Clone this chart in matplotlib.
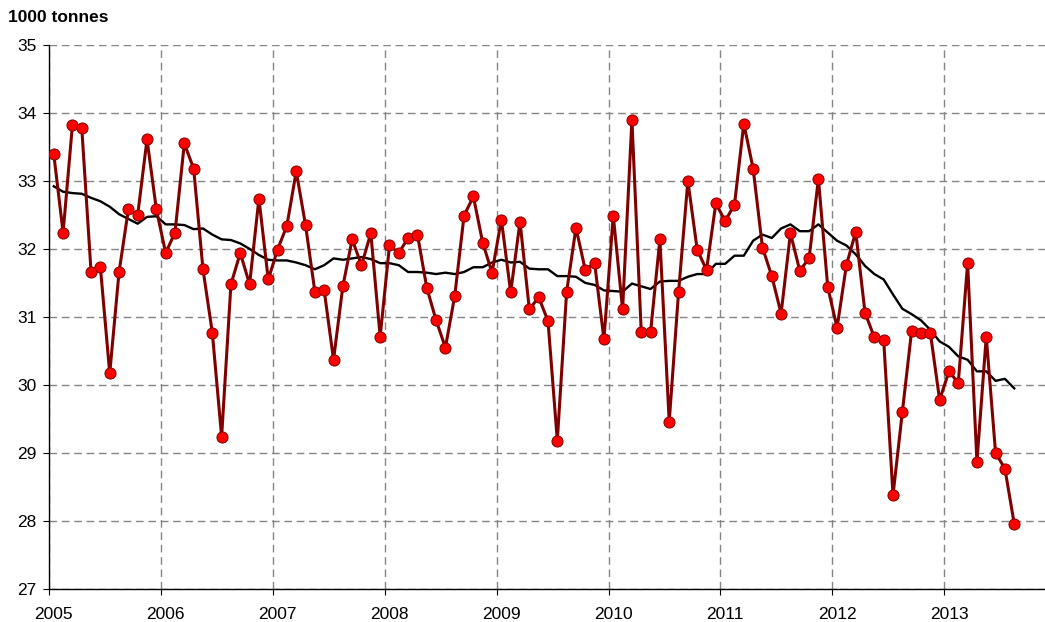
import matplotlib.pyplot as plt
import numpy as np

plt.rcParams['font.family'] = ['Liberation Sans', 'DejaVu Sans']

# monthly values, Jan 2005 .. Aug 2013 (1000 tonnes)
monthly = [
    33.39, 32.24, 33.82, 33.78, 31.66, 31.73, 30.17, 31.66, 32.58, 32.50, 33.61, 32.58,  # 2005
    31.94, 32.24, 33.55, 33.18, 31.70, 30.77, 29.24, 31.48, 31.94, 31.48, 32.74, 31.55,  # 2006
    31.99, 32.34, 33.14, 32.35, 31.37, 31.39, 30.37, 31.45, 32.14, 31.76, 32.23, 30.71,  # 2007
    32.05, 31.94, 32.16, 32.21, 31.43, 30.95, 30.55, 31.31, 32.49, 32.77, 32.09, 31.65,  # 2008
    32.43, 31.36, 32.40, 31.11, 31.29, 30.94, 29.18, 31.37, 32.31, 31.69, 31.79, 30.67,  # 2009
    32.49, 31.11, 33.90, 30.78, 30.78, 32.14, 29.46, 31.36, 33.00, 31.99, 31.69, 32.67,  # 2010
    32.41, 32.65, 33.84, 33.18, 32.02, 31.60, 31.05, 32.23, 31.68, 31.86, 33.03, 31.44,  # 2011
    30.84, 31.76, 32.25, 31.06, 30.70, 30.66, 28.38, 29.60, 30.80, 30.77, 30.77, 29.78,  # 2012
    30.20, 30.03, 31.79, 28.87, 30.71, 29.00, 28.77, 27.96,                              # 2013
]

# 12-month moving average
moving_avg = [
    32.92, 32.84, 32.82, 32.81, 32.75, 32.70, 32.62, 32.51, 32.44, 32.37, 32.47, 32.48,
    32.36, 32.36, 32.35, 32.29, 32.30, 32.21, 32.14, 32.13, 32.08, 32.00, 31.91, 31.84,
    31.83, 31.83, 31.80, 31.76, 31.70, 31.76, 31.86, 31.84, 31.86, 31.88, 31.85, 31.79,
    31.79, 31.76, 31.66, 31.66, 31.65, 31.63, 31.65, 31.63, 31.66, 31.73, 31.73, 31.80,
    31.84, 31.80, 31.81, 31.71, 31.70, 31.70, 31.60, 31.60, 31.59, 31.50, 31.47, 31.39,
    31.38, 31.37, 31.49, 31.45, 31.41, 31.52, 31.53, 31.53, 31.59, 31.63, 31.63, 31.78,
    31.78, 31.90, 31.90, 32.12, 32.21, 32.16, 32.30, 32.36, 32.26, 32.26, 32.36, 32.24,
    32.12, 32.05, 31.92, 31.75, 31.63, 31.55, 31.33, 31.12, 31.04, 30.95, 30.81, 30.64,
    30.56, 30.42, 30.37, 30.20, 30.20, 30.06, 30.09, 29.95,
]

years = list(range(2005, 2014))
yticks = list(range(27, 36))

# x position: middle of each month
t = 2005 + (np.arange(len(monthly)) + 0.5) / 12

fig = plt.figure(figsize=(10.45, 6.22), dpi=100)
ax = fig.add_axes([0.047, 0.053, 0.953, 0.875])

ax.plot(t, moving_avg, color='black', linewidth=1.7, zorder=3)
ax.plot(t, monthly, color='#800000', linewidth=2.2, marker='o', markersize=8,
        markerfacecolor='#ff0000', markeredgecolor='#800000', markeredgewidth=0.7, zorder=4)

ax.set_xlim(2005, 2013.9)
ax.set_ylim(27, 35)
ax.set_yticks(yticks)
ax.set_xticks(years)
ax.set_xticklabels([])
# labels sit under the January point of each year
ax.set_xticks([y + 0.5 / 12 for y in years], minor=True)
ax.set_xticklabels([str(y) for y in years], minor=True)
ax.tick_params(axis='x', which='minor', length=0, pad=13, labelsize=12.5)
ax.tick_params(axis='x', which='major', length=4, direction='out')
ax.tick_params(axis='y', length=4, direction='out', labelsize=12.5, pad=5)

ax.grid(True, which='major', color='#858585', linestyle=(0, (5.5, 3.4)), linewidth=1.0)
ax.set_axisbelow(True)
for s in ['top', 'right']:
    ax.spines[s].set_visible(False)
ax.spines['left'].set_linewidth(1.0)
ax.spines['bottom'].set_linewidth(1.0)

fig.text(0.008, 0.972, '1000 tonnes', fontsize=12.5, fontweight='bold', va='center', ha='left')

fig.savefig('out.png', dpi=100)
